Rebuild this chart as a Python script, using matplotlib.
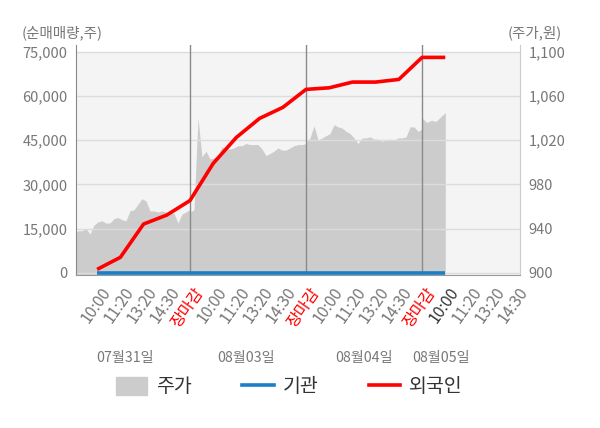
import matplotlib.pyplot as plt
import matplotlib.transforms as mtransforms
from matplotlib.patches import Patch
from matplotlib.lines import Line2D
import numpy as np

plt.rcParams['font.family'] = ['Noto Sans CJK KR', 'DejaVu Sans']

# intraday price (won), one list per trading day
price_day1 = [934, 938, 938, 940, 935, 943, 946, 947, 945, 945,
              949, 950, 948, 947, 956, 957, 962, 967, 965, 956,
              956, 955, 956, 955, 954, 954, 945, 953, 955, 957]
price_day2 = [955, 957, 1040, 1005, 1010, 1003, 1004, 1006, 1014, 1012,
              1012, 1013, 1015, 1015, 1017, 1016, 1016, 1016, 1012, 1006,
              1008, 1010, 1013, 1011, 1011, 1013, 1015, 1016, 1016, 1017]
price_day3 = [1018, 1022, 1033, 1020, 1022, 1024, 1026, 1034, 1032, 1031,
              1028, 1026, 1022, 1017, 1022, 1022, 1023, 1021, 1021, 1019,
              1020, 1021, 1020, 1022, 1022, 1023, 1032, 1032, 1028, 1030]
price_day4 = [1040, 1036, 1038, 1037, 1041, 1045]

# cumulative net buying (shares) at each time tick
foreign = [1150, 5230, 16530, 19580, 24500, 37100, 45950, 52400,
           56130, 62240, 62780, 64720, 64720, 65630, 73100, 73100]
institution = [0] * 16

day_times = ['10:00', '11:20', '13:20', '14:30', '장마감']
tick_labels = day_times * 3 + day_times[:4]
date_labels = ['07월31일', '08월03일', '08월04일', '08월05일']

fig = plt.figure(figsize=(6, 4.28), dpi=100)
ax = fig.add_axes([0.1267, 0.3586, 0.74, 0.536])
ax2 = ax.twinx()
ax.set_zorder(ax2.get_zorder() + 1)
ax.patch.set_visible(False)

ax.set_xlim(0.09, 19.22)
ax.set_ylim(-600, 77270)
ax2.set_ylim(898.4, 1106.05)

ax2.axhspan(898.4, 1100, color='#f4f4f4', lw=0, zorder=0)

days = [price_day1, price_day2, price_day3]
for d, p in enumerate(days):
    xs = np.linspace(5 * d, 5 * d + 5, len(p))
    ax2.fill_between(xs, 898.4, p, color='#cccccc', lw=0, zorder=1)
xs = np.linspace(15, 16, len(price_day4))
ax2.fill_between(xs, 898.4, price_day4, color='#cccccc', lw=0, zorder=1)

for v in range(0, 75001, 15000):
    ax.axhline(v, color='#dcdcdc', lw=1, zorder=1)
for k in [5, 10, 15]:
    ax.axvline(k, color='#8a8a8a', lw=1, zorder=2)

steps = np.arange(1, len(foreign) + 1)
ax.plot(steps, institution, color='#1a7fc6', lw=2.6, zorder=3,
        solid_capstyle='butt')
ax.plot(steps, foreign, color='#ff0000', lw=2.6, zorder=4,
        solid_capstyle='butt')

# axes styling
for s in ['top', 'right']:
    ax.spines[s].set_visible(False)
for s in ['top', 'left', 'bottom']:
    ax2.spines[s].set_visible(False)
ax.spines['left'].set_color('#888888')
ax.spines['bottom'].set_color('#999999')
ax2.spines['right'].set_color('#cccccc')

yt = list(range(0, 75001, 15000))
ax.set_yticks(yt)
ax.set_yticklabels([f'{v:,}' for v in yt])
pt = list(range(900, 1101, 40))
ax2.set_yticks(pt)
ax2.set_yticklabels([f'{v:,}' for v in pt])
ax.tick_params(axis='y', length=0, labelsize=10.5, labelcolor='#777777', pad=6)
ax2.tick_params(axis='y', length=0, labelsize=10.5, labelcolor='#777777', pad=6)

ax.set_xticks(range(1, len(tick_labels) + 1))
ax.set_xticklabels(tick_labels, rotation=55, ha='right', va='top',
                   rotation_mode='anchor')
ax.tick_params(axis='x', length=0, labelsize=11.5, pad=7)
shift = mtransforms.ScaledTranslation(0.03, 0, fig.dpi_scale_trans)
for i, t in enumerate(ax.get_xticklabels()):
    t.set_transform(t.get_transform() + shift)
    if tick_labels[i] == '장마감':
        t.set_color('#ff0000')
    elif i == 15:
        t.set_color('#333333')
    else:
        t.set_color('#777777')
ax.set_xticks([5, 10, 15], minor=True)
ax.tick_params(axis='x', which='minor', length=4, color='#888888')

date_x = [2.2, 7.4, 12.5, 15.8]
for lbl, xpos in zip(date_labels, date_x):
    ax.text(xpos, -0.365, lbl, transform=ax.get_xaxis_transform(),
            ha='center', va='center', fontsize=10.2, color='#777777')

fig.text(22 / 600, 1 - 33 / 428, '(순매매량,주)', ha='left', va='center',
         fontsize=10.5, color='#777777')
fig.text(562 / 600, 1 - 33 / 428, '(주가,원)', ha='right', va='center',
         fontsize=10.5, color='#777777')

handles = [Patch(color='#cccccc'),
           Line2D([], [], color='#1a7fc6', lw=2.6),
           Line2D([], [], color='#ff0000', lw=2.6)]
fig.legend(handles, ['주가', '기관', '외국인'], ncol=3, frameon=False,
           loc='center', bbox_to_anchor=(0.482, 1 - 387 / 428),
           fontsize=14, labelcolor='#333333', handlelength=1.6,
           handleheight=1.0, columnspacing=2.6, handletextpad=0.45)

fig.savefig('out.png', dpi=100)
